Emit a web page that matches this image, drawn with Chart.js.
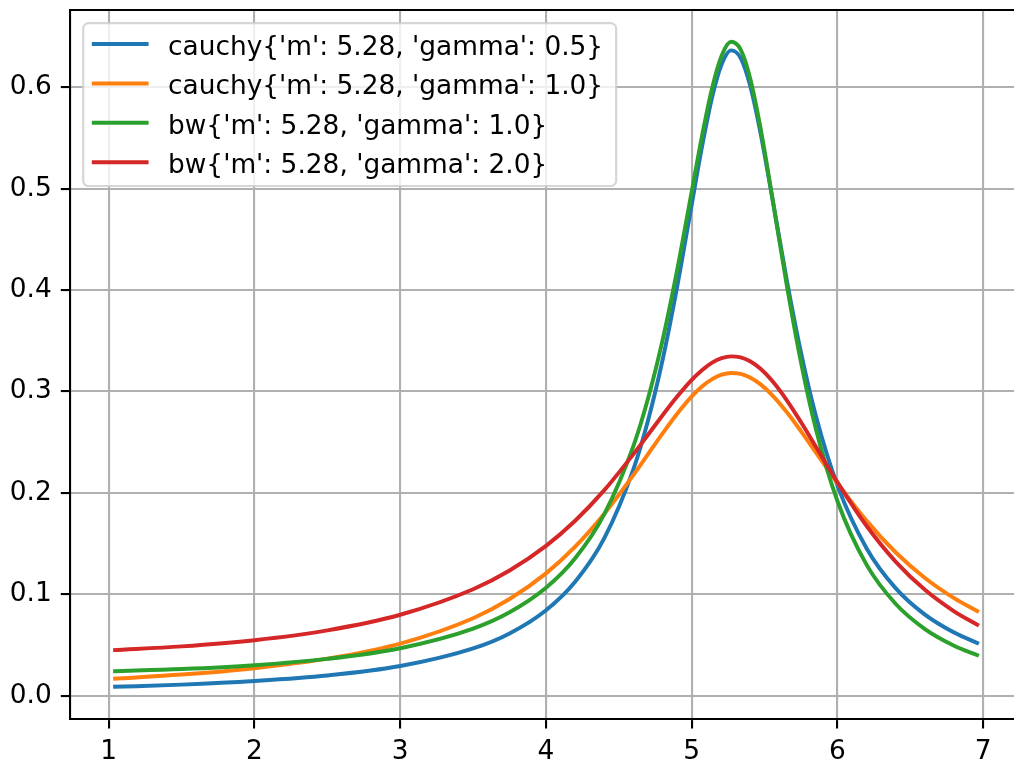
<!DOCTYPE html>
<html>
<head>
<meta charset="utf-8">
<script src="https://cdn.jsdelivr.net/npm/chart.js@4/dist/chart.umd.min.js"></script>
<style>
  html, body { margin: 0; padding: 0; overflow: hidden; background: #fff; }
  #wrap { width: 1014px; height: 764px; }
</style>
</head>
<body>
<div id="wrap"><canvas id="chart" width="1014" height="764"></canvas></div>
<script>
// values
const xValues = [1.03, 1.5, 2.0, 2.5, 3.0, 3.5, 3.75, 4.0, 4.2, 4.4, 4.6, 4.7, 4.8, 4.9, 5.0, 5.07, 5.14, 5.205, 5.27, 5.335, 5.40, 5.47, 5.55, 5.65, 5.75, 5.85, 6.0, 6.2, 6.4, 6.6, 6.8, 6.97];

const cauchy05 = [0.0087, 0.0109, 0.0145, 0.0199, 0.0292, 0.0466, 0.0614, 0.0843, 0.1124, 0.1554, 0.2234, 0.2714, 0.3313, 0.4035, 0.4846, 0.5412, 0.5903, 0.6226, 0.6364, 0.6290, 0.6019, 0.5563, 0.4929, 0.4114, 0.3380, 0.2768, 0.2071, 0.1452, 0.1058, 0.0799, 0.0622, 0.0512];
const cauchy10 = [0.0167, 0.0208, 0.0271, 0.0365, 0.0514, 0.0764, 0.0953, 0.1206, 0.1469, 0.1794, 0.2177, 0.2382, 0.2587, 0.2781, 0.2952, 0.3049, 0.3122, 0.3165, 0.3183, 0.3174, 0.3138, 0.3072, 0.2967, 0.2800, 0.2607, 0.2403, 0.2096, 0.1724, 0.1412, 0.1161, 0.0962, 0.0825];
const bw10 = [0.0241, 0.0263, 0.0301, 0.0363, 0.0468, 0.0661, 0.0822, 0.1064, 0.1355, 0.1791, 0.2463, 0.2930, 0.3506, 0.4198, 0.4973, 0.5516, 0.5993, 0.6311, 0.6448, 0.6373, 0.6092, 0.5611, 0.4937, 0.4066, 0.3285, 0.2640, 0.1917, 0.1290, 0.0904, 0.0657, 0.0493, 0.0394];
const bw20 = [0.0449, 0.0486, 0.0547, 0.0644, 0.0798, 0.1049, 0.1234, 0.1477, 0.1725, 0.2027, 0.2382, 0.2573, 0.2766, 0.2950, 0.3115, 0.3210, 0.3284, 0.3328, 0.3346, 0.3336, 0.3298, 0.3226, 0.3108, 0.2918, 0.2696, 0.2459, 0.2103, 0.1673, 0.1320, 0.1044, 0.0832, 0.0691];

const seriesLabels = [
    "cauchy{'m': 5.28, 'gamma': 0.5}",
    "cauchy{'m': 5.28, 'gamma': 1.0}",
    "bw{'m': 5.28, 'gamma': 1.0}",
    "bw{'m': 5.28, 'gamma': 2.0}"
];
const seriesColors = ['#1f77b4', '#ff7f0e', '#2ca02c', '#d62728'];

const xTicks = [1, 2, 3, 4, 5, 6, 7];
const yTicks = [0.0, 0.1, 0.2, 0.3, 0.4, 0.5, 0.6];

const FONT = "'DejaVu Sans', sans-serif";
const FONT_SIZE = 26.4;
const tickFont = { family: FONT, size: FONT_SIZE };

function toPoints(ys) {
    return xValues.map((x, i) => ({ x: x, y: ys[i] }));
}

const allSeries = [cauchy05, cauchy10, bw10, bw20];
const datasets = allSeries.map((ys, i) => ({
    label: seriesLabels[i],
    data: toPoints(ys),
    borderColor: seriesColors[i],
    backgroundColor: seriesColors[i],
    borderWidth: 3.96,
    pointRadius: 0,
    fill: false,
    cubicInterpolationMode: 'monotone',
    order: allSeries.length - i   // later series on top, like matplotlib
}));

// top spine + legend box in the upper left, matplotlib style
const framePlugin = {
    id: 'frame',
    afterDatasetsDraw(chart) {
        const ctx = chart.ctx;
        const a = chart.chartArea;
        ctx.save();
        ctx.strokeStyle = '#000';
        ctx.lineWidth = 2.1;
        ctx.beginPath();
        ctx.moveTo(a.left - 1, a.top);
        ctx.lineTo(a.right + 2, a.top);
        ctx.stroke();

        // legend
        ctx.font = FONT_SIZE + 'px ' + FONT;
        let maxW = 0;
        seriesLabels.forEach(t => { maxW = Math.max(maxW, ctx.measureText(t).width); });
        const bx = 83.2, by = 23.2;
        const textX = 168;
        const bw = textX + maxW + 13 - bx;
        const bh = 162.8;
        const r = 5.3;
        ctx.beginPath();
        ctx.moveTo(bx + r, by);
        ctx.lineTo(bx + bw - r, by);
        ctx.arcTo(bx + bw, by, bx + bw, by + r, r);
        ctx.lineTo(bx + bw, by + bh - r);
        ctx.arcTo(bx + bw, by + bh, bx + bw - r, by + bh, r);
        ctx.lineTo(bx + r, by + bh);
        ctx.arcTo(bx, by + bh, bx, by + bh - r, r);
        ctx.lineTo(bx, by + r);
        ctx.arcTo(bx, by, bx + r, by, r);
        ctx.closePath();
        ctx.fillStyle = 'rgba(255,255,255,0.8)';
        ctx.fill();
        ctx.strokeStyle = 'rgba(204,204,204,0.8)';
        ctx.lineWidth = 2.2;
        ctx.stroke();

        ctx.textBaseline = 'alphabetic';
        ctx.textAlign = 'left';
        seriesLabels.forEach((t, i) => {
            const cy = 44 + i * 39.4;
            ctx.strokeStyle = seriesColors[i];
            ctx.lineWidth = 3.96;
            ctx.lineCap = 'square';
            ctx.beginPath();
            ctx.moveTo(93.8, cy);
            ctx.lineTo(146.6, cy);
            ctx.stroke();
            ctx.fillStyle = '#000';
            ctx.fillText(t, textX, cy + 11);
        });
        ctx.restore();
    }
};

const gridStyle = {
    color: '#b0b0b0',
    lineWidth: 2.1,
    tickColor: '#000',
    tickLength: 9.2,
    tickWidth: 2.1
};

new Chart(document.getElementById('chart'), {
    type: 'line',
    data: { datasets: datasets },
    options: {
        responsive: false,
        animation: false,
        events: [],
        layout: { padding: { top: 10, right: 0, left: 0, bottom: 0 } },
        plugins: {
            legend: { display: false },
            tooltip: { enabled: false }
        },
        scales: {
            x: {
                type: 'linear',
                min: 0.734,
                max: 7.211,
                afterBuildTicks: s => { s.ticks = xTicks.map(v => ({ value: v })); },
                afterFit: s => { s.height = 44.7; s.paddingLeft = 0; s.paddingRight = 0; },
                grid: gridStyle,
                border: { color: '#000', width: 2.1 },
                ticks: {
                    font: tickFont,
                    color: '#000',
                    padding: 8,
                    maxRotation: 0,
                    autoSkip: false,
                    callback: v => String(v)
                }
            },
            y: {
                type: 'linear',
                min: -0.0233,
                max: 0.6762,
                afterBuildTicks: s => { s.ticks = yTicks.map(v => ({ value: v })); },
                afterFit: s => { s.width = 70; s.paddingTop = 0; s.paddingBottom = 0; },
                grid: gridStyle,
                border: { color: '#000', width: 2.1 },
                ticks: {
                    font: tickFont,
                    color: '#000',
                    padding: 9,
                    autoSkip: false,
                    callback: v => v.toFixed(1)
                }
            }
        }
    },
    plugins: [framePlugin]
});
</script>
</body>
</html>
